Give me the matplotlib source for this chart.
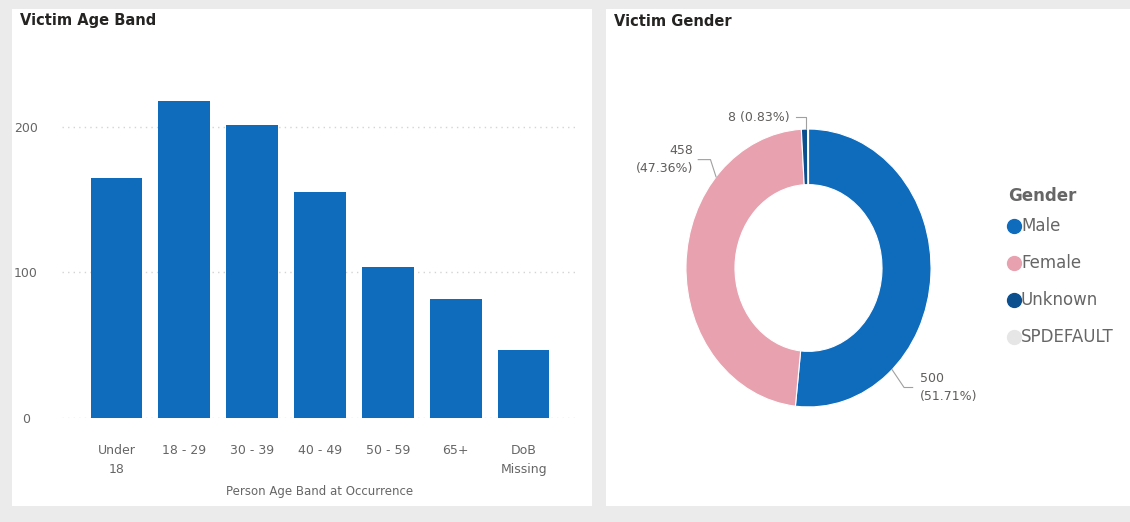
import matplotlib.pyplot as plt
import numpy as np
from matplotlib.patches import Rectangle

# Data
age_bands = ['Under\n18', '18 - 29', '30 - 39', '40 - 49', '50 - 59', '65+', 'DoB\nMissing']
age_counts = [165, 218, 201, 155, 104, 82, 47]

genders = ['Male', 'Female', 'Unknown', 'SPDEFAULT']
gender_counts = [500, 458, 8, 1]
gender_colors = ['#0f6cbd', '#e8a1af', '#0c4f8f', '#e6e6e6']

W, H = 1130, 522
BLUE = '#0f6cbd'
GREY_TXT = '#666666'

plt.rcParams['font.family'] = ['DejaVu Sans']

fig = plt.figure(figsize=(W / 100, H / 100), dpi=100)
fig.patch.set_facecolor('#ebebeb')


def px(x0, y0, x1, y1):
    # pixel box (top-left origin) -> figure fraction rect
    return [x0 / W, 1 - y1 / H, (x1 - x0) / W, (y1 - y0) / H]


# white panels
for x0, x1 in [(12, 592), (606, 1130)]:
    r = px(x0, 9, x1, 506)
    fig.add_artist(Rectangle((r[0], r[1]), r[2], r[3], transform=fig.transFigure,
                             facecolor='white', edgecolor='none', zorder=0))

fig.text(20 / W, 1 - 21 / H, 'Victim Age Band', fontsize=10.5, fontweight='bold',
         color='#252423', va='center', ha='left')
fig.text(614 / W, 1 - 22 / H, 'Victim Gender', fontsize=10.5, fontweight='bold',
         color='#252423', va='center', ha='left')

# ---- bar chart ----
ax = fig.add_axes(px(62, 60, 578, 418))
ax.set_facecolor('none')
x = np.arange(len(age_bands))
ax.bar(x, age_counts, width=0.76, color=BLUE, zorder=2)
ax.set_xlim(-0.8, 6.8)
ax.set_ylim(0, 246)
ax.set_yticks([0, 100, 200])
ax.set_xticks(x)
ax.set_xticklabels(age_bands, fontsize=9, color=GREY_TXT, linespacing=1.6)
ax.tick_params(axis='both', length=0)
ax.tick_params(axis='x', pad=18.5)
ax.tick_params(axis='y', pad=26, labelsize=9, labelcolor=GREY_TXT)
for lab in ax.get_yticklabels():
    lab.set_horizontalalignment('center')
ax.grid(axis='y', color='#d4d4d4', linestyle=(0, (1, 3)), linewidth=1, zorder=0)
for s in ax.spines.values():
    s.set_visible(False)
ax.set_xlabel('Person Age Band at Occurrence', fontsize=8.5, color=GREY_TXT, labelpad=6.5)

# ---- donut ----
pax = fig.add_axes(px(660, 100, 957, 436))
wedges, _ = pax.pie(gender_counts, colors=gender_colors, startangle=90, counterclock=False,
                    radius=1.0, wedgeprops=dict(width=0.4, edgecolor='white', linewidth=0.8))
pax.set_aspect('auto')
pax.set_xlim(-1.212, 1.212)
pax.set_ylim(-1.209, 1.209)

total = sum(gender_counts)
lab_color = '#605e5c'
line_color = '#a0a0a0'

# Male
ang = np.deg2rad(-47)
p0 = (np.cos(ang), np.sin(ang))
pax.plot([p0[0], 0.78, 0.85], [p0[1], -0.86, -0.86], color=line_color, lw=0.8)
pax.text(0.91, -0.86, '%d\n(%.2f%%)' % (gender_counts[0], 100 * gender_counts[0] / total),
         ha='left', va='center', fontsize=9, color=lab_color, linespacing=1.5)

# Female
ang = np.deg2rad(139)
p0 = (np.cos(ang), np.sin(ang))
pax.plot([p0[0], -0.80, -0.90], [p0[1], 0.78, 0.78], color=line_color, lw=0.8)
pax.text(-0.94, 0.78, '%d\n(%.2f%%)' % (gender_counts[1], 100 * gender_counts[1] / total),
         ha='right', va='center', fontsize=9, color=lab_color, linespacing=1.5)

# Unknown
pax.plot([-0.02, -0.02, -0.10], [1.0, 1.085, 1.085], color=line_color, lw=0.8)
pax.text(-0.15, 1.085, '%d (%.2f%%)' % (gender_counts[2], 100 * gender_counts[2] / total),
         ha='right', va='center', fontsize=9, color=lab_color)

# legend
fig.text(1008 / W, 1 - 196 / H, 'Gender', fontsize=12, fontweight='bold', color=GREY_TXT,
         ha='left', va='center')
for i, (g, c) in enumerate(zip(genders, gender_colors)):
    yy = 1 - (226 + i * 37) / H
    fig.lines.append(plt.Line2D([1014 / W], [yy], marker='o', markersize=10, color=c,
                                transform=fig.transFigure))
    fig.text(1021 / W, yy, g, fontsize=12, color=GREY_TXT, ha='left', va='center')

fig.savefig('out.png', dpi=100, facecolor=fig.get_facecolor())
